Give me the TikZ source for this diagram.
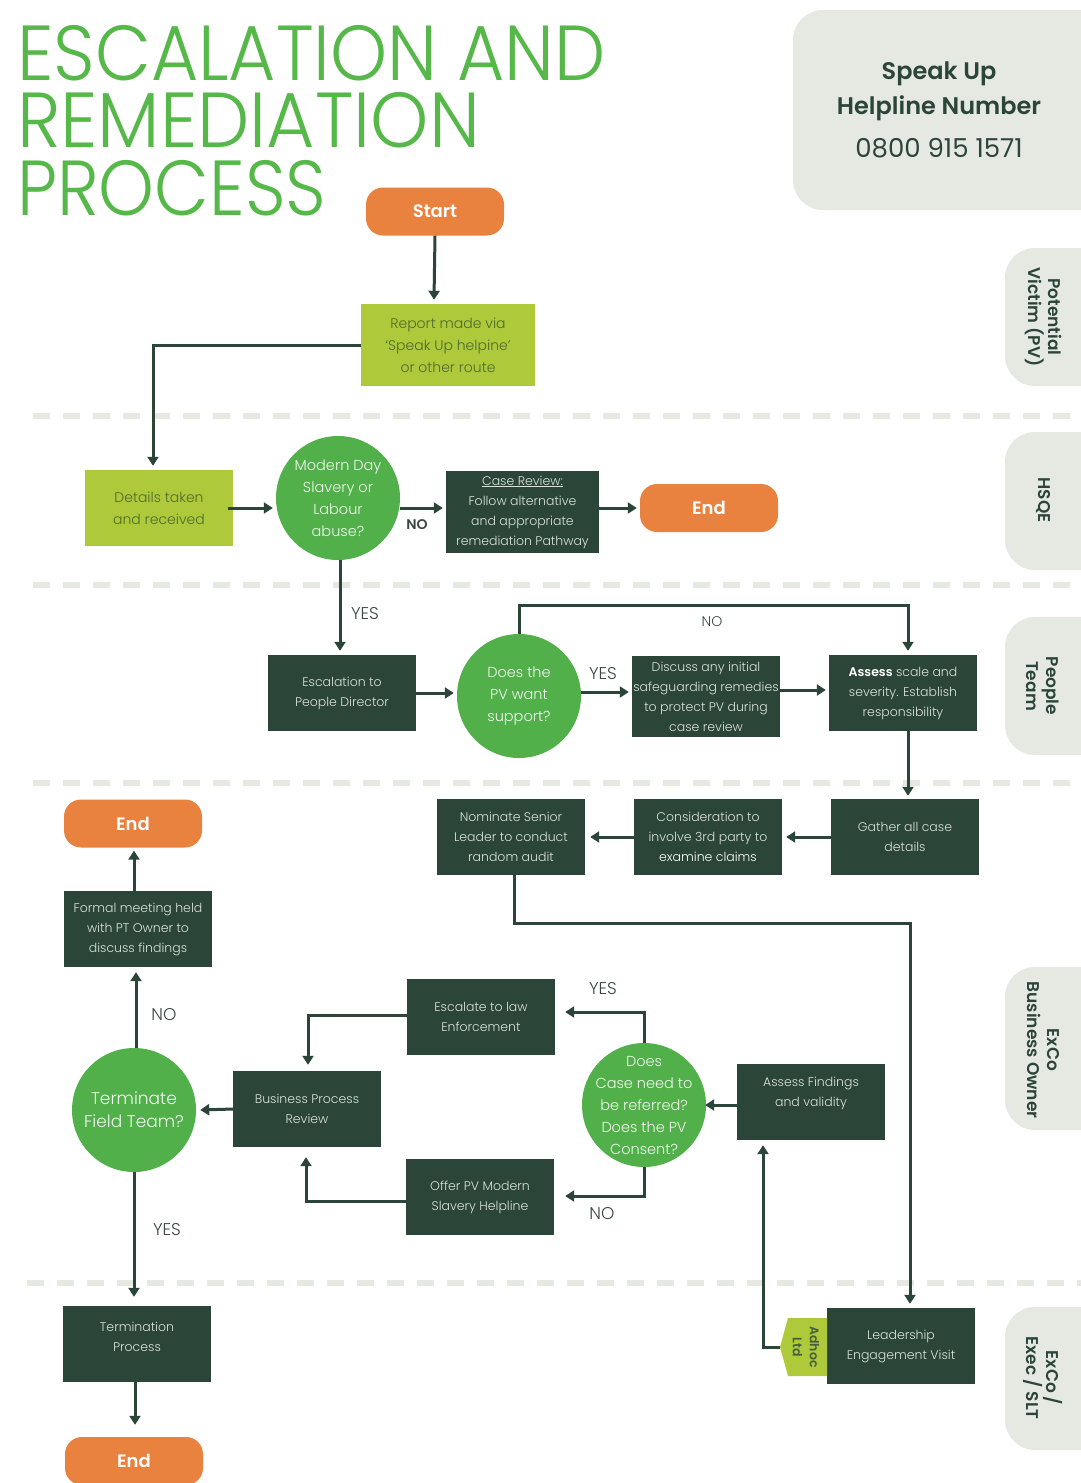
\documentclass[tikz,border=0pt]{standalone}
\usepackage{fontspec}
\setmainfont{Poppins}[UprightFont=* Light, BoldFont=* SemiBold]
\newfontfamily\poppinsreg{Poppins}
\usetikzlibrary{arrows.meta,calc}
\definecolor{dk}{HTML}{2B4539}
\definecolor{lt}{HTML}{DCE3DC}
\definecolor{gr}{HTML}{52B04A}
\definecolor{lime}{HTML}{AEC93A}
\definecolor{limetxt}{HTML}{4D6B2E}
\definecolor{orng}{HTML}{E8823E}
\definecolor{pillc}{HTML}{E6E9E2}
\definecolor{tgreen}{HTML}{55B848}
\definecolor{lbltxt}{HTML}{3A4842}
\tikzset{
  dbox/.style={draw=none, fill=dk, text=lt, align=center, inner sep=0pt,
    minimum width=148pt, minimum height=76pt, font=\fontsize{12.5}{20}\selectfont},
  lbox/.style={fill=lime, text=limetxt, align=center, inner sep=0pt,
    minimum width=148pt, minimum height=76pt, font=\fontsize{14}{22}\selectfont},
  circ/.style={circle, fill=gr, minimum size=124pt, inner sep=0pt},
  ctext/.style={text=white!92!gr, align=center, font=\fontsize{14.5}{22}\selectfont},
  endb/.style={fill=orng, rounded corners=17pt, text=white, minimum width=138pt,
    minimum height=48pt, inner sep=0pt, font=\fontsize{18}{20}\selectfont\bfseries},
  arr/.style={draw=dk, line width=3pt, -{Triangle[length=9pt,width=11pt]}},
  sep/.style={draw=pillc, line width=6pt, dash pattern=on 17pt off 13pt},
  lbl/.style={text=lbltxt, font=\fontsize{17}{20}\selectfont},
  lane/.style={fill=pillc, rounded corners=30pt},
  lanetxt/.style={text=dk, rotate=-90, align=center, font=\fontsize{17}{20}\selectfont\bfseries},
  ttl/.style={anchor=north west, text=tgreen, inner sep=0pt, align=left,
    font=\fontsize{78}{67.5}\selectfont}
}
\begin{document}
\begin{tikzpicture}[x=1pt,y=-1pt]
\useasboundingbox (0,0) rectangle (1081,1483);
\clip (0,0) rectangle (1081,1483);
\fill[white] (0,0) rectangle (1081,1483);

% separators
\draw[sep] (33,416) -- (1081,416);
\draw[sep] (33,585) -- (1081,585);
\draw[sep] (33,783) -- (1081,783);
\draw[sep] (27,1283) -- (1081,1283);

% title
\node[ttl] (title) at (17,25)
  {\scalebox{0.93}[1]{ESCALATION AND}\\\scalebox{0.95}[1]{REMEDIATION}\\\scalebox{0.91}[1]{PROCESS}};

% helpline box
\fill[lane] (793,10) rectangle (1120,210);
\node[text=dk, align=center, font=\fontsize{24}{35}\selectfont] (help) at (939,91)
  {\textbf{Speak Up}\\\textbf{Helpline Number}};
\node[text=dk, font=\poppinsreg\fontsize{26}{30}\selectfont] (phone) at (939,148) {0800 915 1571};

% lanes
\fill[lane] (1005,248) rectangle (1120,386);
\node[lanetxt] (l1) at (1043,317) {Potential\\Victim (PV)};
\fill[lane] (1005,432) rectangle (1120,570);
\node[lanetxt] (l2) at (1043,500) {HSQE};
\fill[lane] (1005,617) rectangle (1120,755);
\node[lanetxt] (l3) at (1043,686) {People\\Team};
\fill[lane] (1005,967) rectangle (1120,1130);
\node[lanetxt] (l4) at (1043,1050) {ExCo\\Business Owner};
\fill[lane] (1005,1307) rectangle (1120,1450);
\node[lanetxt] (l5) at (1043,1378) {ExCo /\\Exec / SLT};

% nodes
\node[endb] (start) at (435,211.5) {Start};
\node[lbox, minimum width=174pt, minimum height=82pt] (report) at (448,345)
  {Report made via\\`Speak Up helpine'\\or other route};
\node[lbox] (details) at (159,508) {Details taken\\and received};
\node[circ] (q1) at (338,498) {};
\node[ctext] at (q1) {Modern Day\\Slavery or\\Labour\\abuse?};
\node[dbox, minimum width=153pt, minimum height=82pt] (case) at (522.5,512)
  {\underline{Case Review:}\\Follow alternative\\and appropriate\\remediation Pathway};
\node[endb] (end1) at (709,508) {End};

\node[dbox] (esc) at (342,693) {Escalation to\\People Director};
\node[circ] (q2) at (519,696) {};
\node[ctext] at (q2) {Does the\\PV want\\support?};
\node[dbox, minimum height=81pt] (disc) at (706,696.5)
  {Discuss any initial\\safeguarding remedies\\to protect PV during\\case review};
\node[dbox] (assess) at (903,693) {\textcolor{white}{\textbf{Assess}} scale and\\severity. Establish\\responsibility};

\node[dbox] (gather) at (905,837) {Gather all case\\details};
\node[dbox] (consid) at (708,837) {Consideration to\\involve 3rd party to\\\textcolor{white}{examine claims}};
\node[dbox] (nom) at (511,837) {Nominate Senior\\Leader to conduct\\random audit};

\node[dbox] (lead) at (901,1346) {Leadership\\Engagement Visit};
\fill[lime] (827,1318) -- (788,1318) -- (780,1347) -- (788,1376) -- (827,1376) -- cycle;
\coordinate (tagtip) at (780,1347);
\node[text=dk!80!lime, rotate=-90, align=center, font=\fontsize{12.5}{17}\selectfont\bfseries] (tag) at (806,1347) {Adhoc\\Ltd};

\node[dbox] (af) at (811,1102) {Assess Findings\\and validity\\~};
\node[circ] (q3) at (644,1105) {};
\node[ctext] at (q3) {Does\\Case need to\\be referred?\\Does the PV\\Consent?};
\node[dbox] (law) at (481,1017) {Escalate to law\\Enforcement};
\node[dbox] (offer) at (480,1197) {Offer PV Modern\\Slavery Helpline};
\node[dbox] (bpr) at (307,1109) {Business Process\\Review};
\node[circ] (q4) at (134,1110) {};
\node[ctext, font=\fontsize{17}{23}\selectfont] at (q4) {Terminate\\Field Team?};
\node[dbox] (formal) at (138,929) {Formal meeting held\\with PT Owner to\\discuss findings};
\node[endb] (end2) at (133,823.5) {End};
\node[dbox] (term) at (137,1344) {Termination\\Process\\[-6pt]~};
\node[endb] (end3) at (134,1461) {End};

% connectors
\draw[arr] (start.south) -- ($(report.north)+(-14,-4)$);
\draw[arr] (report.west) -| ($(details.north)+(-6,-4)$);
\draw[arr] ($(details.east)+(-5,0)$) -- ($(q1.west)+(-3,10)$);
\draw[arr] ($(q1.east)+(0,10)$) -- ($(case.west)+(-3,-4)$);
\node[lbl, font=\fontsize{14}{16}\selectfont\bfseries] (no1) at (417,525) {NO};
\draw[arr] ($(case.east)+(0,-4)$) -- ($(end1.west)+(-3,0)$);
\draw[arr] ($(q1.south)+(2,0)$) -- ($(esc.north)+(-2,-4)$);
\node[lbl] (yes1) at (365,614) {YES};
\draw[arr] (esc.east) -- ($(q2.west)+(-3,-3)$);
\draw[arr] ($(q2.east)+(0,-4)$) -- ($(disc.west)+(-3,-4.5)$);
\node[lbl] (yes2) at (603,674) {YES};
\draw[arr] ($(disc.east)+(0,-6.5)$) -- ($(assess.west)+(-3,-3)$);
\draw[arr] (q2.north) -- ++(0,-28) -| ($(assess.north)+(5,-4)$);
\node[lbl, font=\fontsize{14}{16}\selectfont] (no2) at (712,622) {NO};
\draw[arr] ($(assess.south)+(5,0)$) -- ($(gather.north)+(3,-3)$);
\draw[arr] (gather.west) -- ($(consid.east)+(4,0)$);
\draw[arr] (consid.west) -- ($(nom.east)+(5,0)$);
\draw[arr] ($(nom.south)+(3,0)$) -- ++(0,48) -| ($(lead.north)+(9,-4)$);
\draw[arr] (tagtip) -| ($(af.south)+(-48,5)$);
\draw[arr] ($(af.west)+(0,3)$) -- ($(q3.east)+(-1,0)$);
\draw[arr] (q3.north) |- ($(law.east)+(10,-5)$);
\node[lbl] (yes3) at (603,989) {YES};
\draw[arr] (q3.south) |- ($(offer.east)+(11,-1)$);
\node[lbl] (no3) at (602,1214) {NO};
\draw[arr] ($(law.west)+(0,-2)$) -| ($(bpr.north)+(1,-6)$);
\draw[arr] ($(offer.west)+(0,4)$) -| ($(bpr.south)+(-1,10)$);
\draw[arr] (bpr.west) -- ($(q4.east)+(4,0)$);
\draw[arr] ($(q4.north)+(2,0)$) -- ($(formal.south)+(-2,5)$);
\node[lbl] (no4) at (164,1015) {NO};
\draw[arr] ($(formal.north)+(-4,0)$) -- ($(end2.south)+(1,3)$);
\draw[arr] (q4.south) -- ($(term.north)+(-3,-9)$);
\node[lbl] (yes4) at (167,1230) {YES};
\draw[arr] ($(term.south)+(-2,0)$) -- ($(end3.north)+(1,-12)$);
\end{tikzpicture}
\end{document}
